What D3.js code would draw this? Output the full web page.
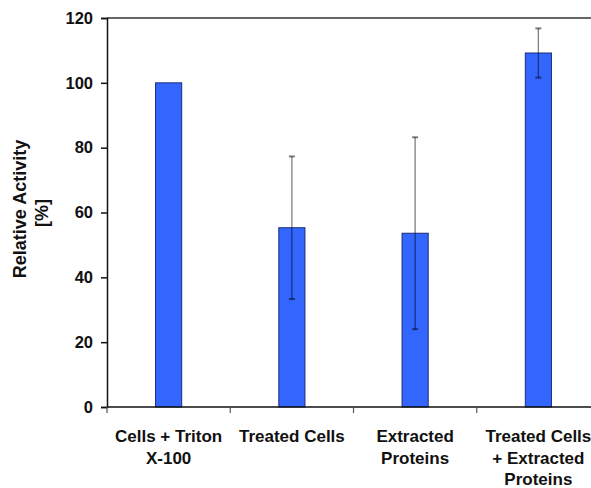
<!DOCTYPE html>
<html>
<head>
<meta charset="utf-8">
<script src="https://cdn.jsdelivr.net/npm/d3@7"></script>
<style>
  body { margin: 0; background: #fff; }
  svg text { font-family: "Liberation Sans", Arial, sans-serif; font-weight: bold; fill: #111; }
</style>
</head>
<body>
<svg id="chart" width="591" height="488"></svg>
<script>
// data
const categories = ["Cells + Triton X-100", "Treated Cells", "Extracted Proteins", "Treated Cells + Extracted Proteins"];
const labelLines = [["Cells + Triton", "X-100"], ["Treated Cells"], ["Extracted", "Proteins"], ["Treated Cells", "+ Extracted", "Proteins"]];
const values = [100, 55.3, 53.6, 109.2];
const errors = [0, 22, 29.6, 7.6];
const yTicks = [0, 20, 40, 60, 80, 100, 120];

const margin = { top: 18, left: 107, bottom: 81 };
const plotRight = 600; // plot area runs past the window edge
const width = 591, height = 488;

const svg = d3.select('svg#chart');

const xScale = d3.scaleBand()
    .domain(categories)
    .range([margin.left, plotRight])
    .padding(0);

const yScale = d3.scaleLinear()
    .domain([0, 120])
    .range([height - margin.bottom, margin.top]);

const barW = xScale.bandwidth() * 0.212;

// top border of plot area
svg.append('line')
    .attr('x1', margin.left).attr('x2', plotRight)
    .attr('y1', yScale(120)).attr('y2', yScale(120))
    .attr('stroke', '#333').attr('stroke-width', 1.5);

// bars
const data = categories.map((c, i) => ({ c, v: values[i], e: errors[i] }));

svg.append('g')
    .selectAll('rect')
    .data(data)
    .enter()
    .append('rect')
    .attr('x', d => xScale(d.c) + xScale.bandwidth() / 2 - barW / 2)
    .attr('y', d => yScale(d.v))
    .attr('width', barW)
    .attr('height', d => yScale(0) - yScale(d.v))
    .attr('fill', '#3366ff')
    .attr('stroke', '#1c2a7a')
    .attr('stroke-width', 1);

// error bars
const errG = svg.append('g')
    .attr('stroke', '#000')
    .attr('stroke-opacity', 0.5)
    .attr('stroke-width', 1.3);

const errData = data.filter(d => d.e > 0);
const cx = d => xScale(d.c) + xScale.bandwidth() / 2;

errG.selectAll('line.stem')
    .data(errData)
    .enter()
    .append('line')
    .attr('class', 'stem')
    .attr('x1', cx).attr('x2', cx)
    .attr('y1', d => yScale(d.v + d.e))
    .attr('y2', d => yScale(d.v - d.e));

errG.selectAll('line.capTop')
    .data(errData)
    .enter()
    .append('line')
    .attr('class', 'capTop')
    .attr('x1', d => cx(d) - 3).attr('x2', d => cx(d) + 3)
    .attr('y1', d => yScale(d.v + d.e)).attr('y2', d => yScale(d.v + d.e))
    .attr('stroke-width', 2);

errG.selectAll('line.capBot')
    .data(errData)
    .enter()
    .append('line')
    .attr('class', 'capBot')
    .attr('x1', d => cx(d) - 3).attr('x2', d => cx(d) + 3)
    .attr('y1', d => yScale(d.v - d.e)).attr('y2', d => yScale(d.v - d.e))
    .attr('stroke-width', 2);

// y axis
svg.append('g')
    .attr('class', 'y-axis')
    .attr('transform', `translate(${margin.left},0)`)
    .call(d3.axisLeft(yScale).tickValues(yTicks).tickSize(6).tickPadding(8))
    .call(g => g.selectAll('path, line').attr('stroke', '#111').attr('stroke-width', 1.5))
    .call(g => g.selectAll('text').attr('font-size', 16.5).attr('font-family', null));

// x axis: line plus ticks at band boundaries
const xAxisG = svg.append('g')
    .attr('class', 'x-axis')
    .attr('transform', `translate(0,${yScale(0)})`);

xAxisG.append('line')
    .attr('x1', margin.left).attr('x2', plotRight)
    .attr('stroke', '#111').attr('stroke-width', 1.5);

xAxisG.selectAll('line.tick')
    .data(categories)
    .enter()
    .append('line')
    .attr('class', 'tick')
    .attr('x1', d => xScale(d)).attr('x2', d => xScale(d))
    .attr('y1', 0).attr('y2', 6)
    .attr('stroke', '#555').attr('stroke-width', 1.2);

const labels = xAxisG.selectAll('text')
    .data(categories)
    .enter()
    .append('text')
    .attr('text-anchor', 'middle')
    .attr('font-size', 17)
    .attr('x', d => xScale(d) + xScale.bandwidth() / 2)
    .attr('y', 35);

labels.each(function (d, i) {
    const t = d3.select(this);
    labelLines[i].forEach((line, j) => {
        t.append('tspan')
            .attr('x', xScale(d) + xScale.bandwidth() / 2)
            .attr('dy', j === 0 ? 0 : 21.5)
            .text(line);
    });
});

// y axis title
const yTitle = svg.append('text')
    .attr('text-anchor', 'middle')
    .attr('font-size', 18)
    .attr('transform', `translate(26,209) rotate(-90)`);

yTitle.append('tspan').attr('x', 0).attr('dy', 0).text('Relative Activity');
yTitle.append('tspan').attr('x', -4).attr('dy', 22).text('[%]');
</script>
</body>
</html>
